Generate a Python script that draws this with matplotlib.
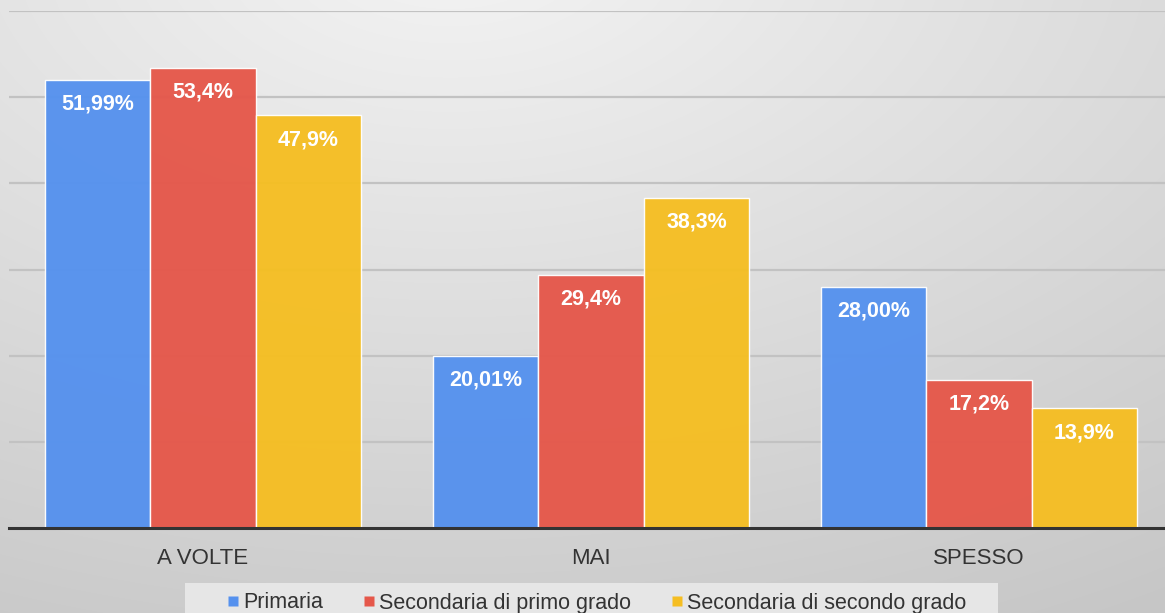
import numpy as np
import matplotlib
matplotlib.use("Agg")
import matplotlib.pyplot as plt
from matplotlib.lines import Line2D
from matplotlib.patches import Rectangle

categories = ["A VOLTE", "MAI", "SPESSO"]
series = ["Primaria", "Secondaria di primo grado", "Secondaria di secondo grado"]
primaria = [51.99, 20.01, 28.00]
primo = [53.4, 29.4, 17.2]
secondo = [47.9, 38.3, 13.9]
labels_primaria = ["51,99%", "20,01%", "28,00%"]
labels_primo = ["53,4%", "29,4%", "17,2%"]
labels_secondo = ["47,9%", "38,3%", "13,9%"]
colors = ["#5591EE", "#E5574A", "#F5BE22"]

plt.rcParams['font.family'] = ['Liberation Sans', 'DejaVu Sans']

W, H = 1165, 613
fig = plt.figure(figsize=(W / 100, H / 100), dpi=100)

# background gradient
bg = fig.add_axes([0, 0, 1, 1], zorder=-10)
yy, xx = np.mgrid[0:H, 0:W]
d = np.sqrt(((xx - 450) / W) ** 2 + ((yy + 60) / H) ** 2 * 0.8)
val = np.clip(244 - 40 * d, 198, 244) / 255.0
img = np.dstack([val, val, val])
bg.imshow(img, aspect='auto', extent=[0, 1, 0, 1], origin='upper')
bg.axis('off')
# legend background box
fig.patches.append(Rectangle((185 / W, 0), (998 - 185) / W, (613 - 583) / H,
                             transform=fig.transFigure, facecolor='#e6e6e6',
                             edgecolor='none', zorder=-5))

left = 9 / W
right = 1173 / W
bottom = 1 - 528 / H
top = 1 - 11 / H
ax = fig.add_axes([left, bottom, right - left, top - bottom])
ax.set_facecolor('none')

x = np.arange(len(categories))
bw = 0.272
offsets = [-bw, 0, bw]
data = [primaria, primo, secondo]
labs = [labels_primaria, labels_primo, labels_secondo]
for i in range(3):
    ax.bar(x + offsets[i], data[i], width=bw, color=colors[i],
           edgecolor=(1, 1, 1, 0.45), linewidth=1.0, alpha=0.96, zorder=2,
           label=series[i])
    for xi, v, t in zip(x + offsets[i], data[i], labs[i]):
        ax.annotate(t, (xi, v), xytext=(0, -17.5), textcoords='offset points',
                    ha='center', va='center', color='white', fontweight='bold',
                    fontsize=15.5, zorder=4)

ax.set_xlim(-0.5, 2.5)
ax.set_ylim(0, 60)
ax.set_yticks([10, 20, 30, 40, 50, 60])
ax.yaxis.grid(True, color='#c2c2c2', linewidth=1.6, zorder=1)
ax.set_axisbelow(True)
ax.tick_params(axis='y', left=False, labelleft=False)
ax.tick_params(axis='x', bottom=False, pad=11, labelsize=16, labelcolor='#333333')
ax.set_xticks(x)
ax.set_xticklabels(categories)
for s in ['top', 'right', 'left']:
    ax.spines[s].set_visible(False)
ax.spines['bottom'].set_color('#333333')
ax.spines['bottom'].set_linewidth(2.2)
ax.spines['bottom'].set_zorder(5)

handles = [Line2D([], [], marker='s', linestyle='none', markersize=7.5,
                  markerfacecolor=c, markeredgecolor='none') for c in colors]
leg = fig.legend(handles, series, loc='center', bbox_to_anchor=(595 / W, 1 - 603 / H),
                 ncol=3, frameon=False, fontsize=15.5, handletextpad=0.0,
                 columnspacing=1.7, handlelength=0.9, borderpad=0.0)
for t in leg.get_texts():
    t.set_color('#333333')

fig.savefig("out.png", dpi=100)
